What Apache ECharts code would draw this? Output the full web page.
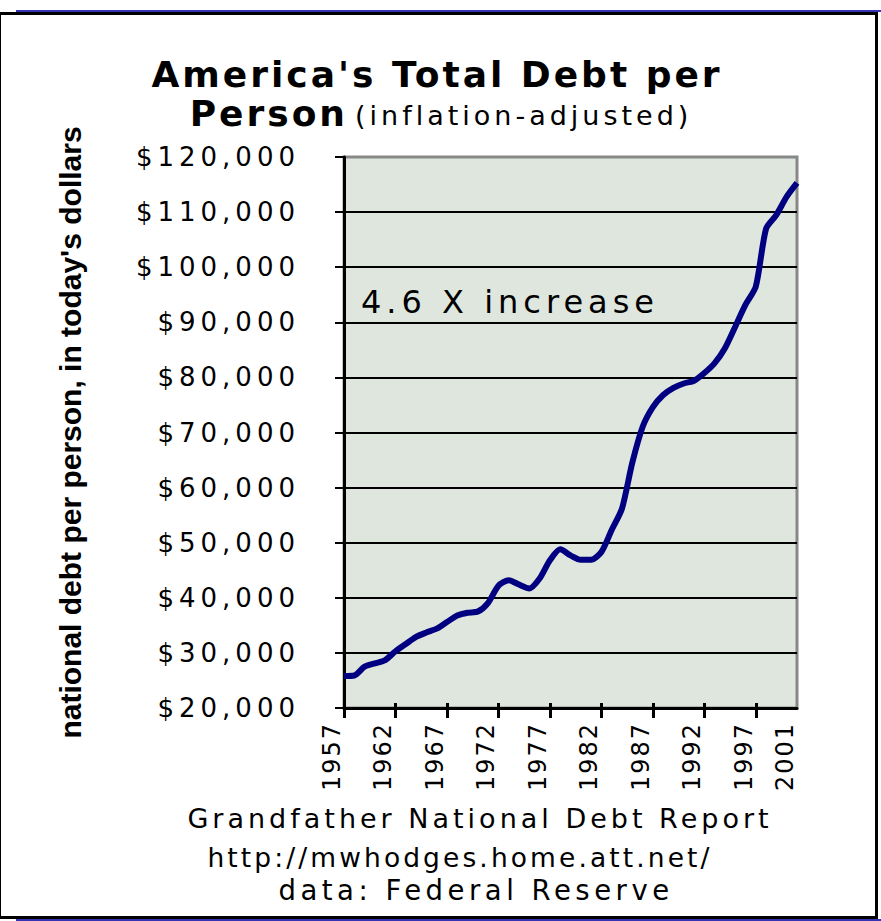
<!DOCTYPE html>
<html>
<head>
<meta charset="utf-8">
<script src="https://cdn.jsdelivr.net/npm/echarts@6/dist/echarts.min.js"></script>
<style>
  html, body { margin: 0; padding: 0; background: #ffffff; }
  #chart { width: 881px; height: 921px; }
  #chart text[style*="36px"] { letter-spacing: 3px; }
  #chart text[style*="27px"] { letter-spacing: 4px; }
  #chart text[style*="27.5px"] { letter-spacing: 4.5px; }
  #chart text[style*="26px"] { letter-spacing: 5px; }
  #chart text[style*="26.5px"] { letter-spacing: 3.1px; }
  #chart text[style*="24px"] { letter-spacing: 2px; }
  #chart text[style*="32px"] { letter-spacing: 5px; }
</style>
</head>
<body>
<div id="chart"></div>
<script>
const years = ['1957','1958','1959','1960','1961','1962','1963','1964','1965','1966',
  '1967','1968','1969','1970','1971','1972','1973','1974','1975','1976',
  '1977','1978','1979','1980','1981','1982','1983','1984','1985','1986',
  '1987','1988','1989','1990','1991','1992','1993','1994','1995','1996',
  '1997','1998','1999','2000','2001'];
const debtPerPerson = [25800, 25900, 27500, 28100, 28700, 30300, 31600, 32900, 33700, 34400,
  35600, 36800, 37300, 37500, 39100, 42200, 43200, 42400, 41700, 43500,
  46800, 48800, 47700, 46900, 46900, 48300, 52300, 56200, 64500, 71000,
  74600, 76800, 78100, 78900, 79400, 80800, 82600, 85300, 89200, 93200,
  96500, 107000, 109500, 112800, 115300];
const yTicks = { min: 20000, max: 120000, interval: 10000 };
const titleLine1 = "America's Total Debt per";
const titleBold2 = 'Person';
const titleNormal2 = '(inflation-adjusted)';
const yAxisName = "national debt per person, in today's dollars";
const annotation = '4.6 X increase';
const footer = ['Grandfather National Debt Report', 'http://mwhodges.home.att.net/', 'data: Federal Reserve'];

const chart = echarts.init(document.getElementById('chart'), null, { renderer: 'svg' });
const F = "'DejaVu Sans', sans-serif";
const gridColors = [];
for (let v = yTicks.min; v <= yTicks.max; v += yTicks.interval) gridColors.push(v === yTicks.max ? '#888888' : '#000000');
const every5 = (i) => i % 5 === 0;

chart.setOption({
  animation: false,
  backgroundColor: '#ffffff',
  grid: {
    left: 344, right: 84, top: 157, bottom: 213,
    show: true, backgroundColor: '#dee6de', borderColor: '#888888', borderWidth: 3
  },
  xAxis: [{
    type: 'category',
    data: years,
    boundaryGap: false,
    position: 'bottom',
    axisLine: { show: true, lineStyle: { color: '#000', width: 3 } },
    axisTick: { show: true, interval: every5, length: 10, lineStyle: { color: '#000', width: 3 } },
    axisLabel: {
      interval: (i) => i % 5 === 0 || i === years.length - 1,
      rotate: 90, verticalAlign: 'bottom', margin: 14,
      color: '#000', fontFamily: F, fontSize: 24
    },
    splitLine: { show: false }
  }, {
    type: 'category',
    data: years,
    boundaryGap: false,
    position: 'bottom',
    offset: 0,
    axisLine: { show: false },
    axisTick: { show: true, inside: true, interval: every5, length: 5, lineStyle: { color: '#000', width: 3 } },
    axisLabel: { show: false },
    splitLine: { show: false }
  }],
  yAxis: {
    type: 'value',
    min: yTicks.min, max: yTicks.max, interval: yTicks.interval,
    axisLine: { show: true, lineStyle: { color: '#000', width: 3 } },
    axisTick: { show: true, length: 9, lineStyle: { color: '#000', width: 2 } },
    axisLabel: {
      margin: 44, color: '#000', fontFamily: F, fontSize: 26,
      formatter: (v) => '$' + v.toLocaleString('en-US')
    },
    splitLine: { show: true, lineStyle: { color: gridColors, width: 2 } },
    name: yAxisName,
    nameLocation: 'middle', nameRotate: 90, nameGap: 259,
    nameTextStyle: { color: '#000', fontFamily: "'Liberation Sans Narrow', 'Liberation Sans', sans-serif", fontWeight: 'bold', fontSize: 30 }
  },
  series: [{
    type: 'line',
    data: debtPerPerson,
    xAxisIndex: 0,
    showSymbol: false,
    smooth: 0.25,
    lineStyle: { color: '#000080', width: 6 },
    z: 5
  }],
  graphic: [
    { type: 'rect', shape: { x: 0, y: 12, width: 878, height: 3 }, style: { fill: '#000' } },
    { type: 'rect', shape: { x: 0, y: 916, width: 878, height: 3 }, style: { fill: '#000' } },
    { type: 'rect', shape: { x: 0, y: 12, width: 1, height: 907 }, style: { fill: '#000' } },
    { type: 'rect', shape: { x: 875, y: 12, width: 3, height: 907 }, style: { fill: '#000' } },
    { type: 'rect', shape: { x: 16, y: 10, width: 865, height: 2 }, style: { fill: '#3434b4' } },
    { type: 'rect', shape: { x: 16, y: 919, width: 865, height: 2 }, style: { fill: '#3434b4' } },
    { type: 'text', x: 437, y: 74, style: { text: titleLine1, fill: '#000', font: "bold 36px 'DejaVu Sans'", textAlign: 'center', textVerticalAlign: 'middle' } },
    { type: 'text', x: 348, y: 113, style: { text: titleBold2, fill: '#000', font: "bold 36px 'DejaVu Sans'", textAlign: 'right', textVerticalAlign: 'middle' } },
    { type: 'text', x: 355, y: 115, style: { text: titleNormal2, fill: '#000', font: "27px 'DejaVu Sans'", textAlign: 'left', textVerticalAlign: 'middle' } },
    { type: 'text', x: 361, y: 302, style: { text: annotation, fill: '#000', font: "32px 'DejaVu Sans'", textAlign: 'left', textVerticalAlign: 'middle' } },
    { type: 'text', x: 480, y: 818, style: { text: footer[0], fill: '#000', font: "27px 'DejaVu Sans'", textAlign: 'center', textVerticalAlign: 'middle' } },
    { type: 'text', x: 460, y: 857, style: { text: footer[1], fill: '#000', font: "26.5px 'DejaVu Sans'", textAlign: 'center', textVerticalAlign: 'middle' } },
    { type: 'text', x: 476, y: 890, style: { text: footer[2], fill: '#000', font: "27.5px 'DejaVu Sans'", textAlign: 'center', textVerticalAlign: 'middle' } }
  ]
});
</script>
</body>
</html>
